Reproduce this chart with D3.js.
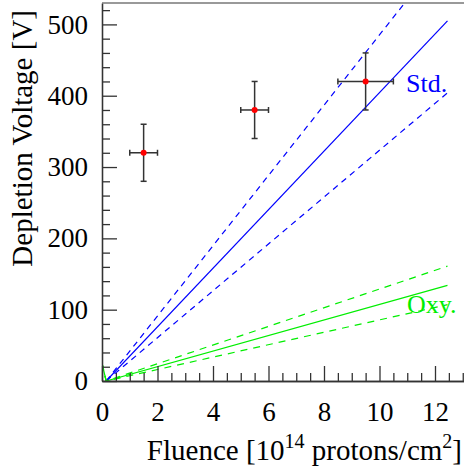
<!DOCTYPE html>
<html>
<head>
<meta charset="utf-8">
<script src="https://cdn.jsdelivr.net/npm/d3@7"></script>
<style>
  body { margin: 0; background: #fff; }
</style>
</head>
<body>
<svg width="464" height="467"></svg>
<script>
const svg = d3.select('svg');
const serif = 'Liberation Serif, DejaVu Serif, serif';

// measured points
const fluence = [1.5, 5.5, 9.5];
const fluenceErr = [0.5, 0.5, 1.0];
const voltage = [320, 380, 420];
const voltageErr = [40, 40, 40];

// expectation lines (central, +20%, -20%)
const stdFluence = [0.15, 12.45];
const stdCentral = [0, 505];
const stdUpper = [0, 606];
const stdLower = [0, 404];

const oxyFluence = [0, 0.15, 12.45];
const oxyCentral = [25, 0, 134];
const oxyUpper = [25, 0, 161];
const oxyLower = [25, 0, 107];

const xMajor = [0, 2, 4, 6, 8, 10, 12];
const yMajor = [0, 100, 200, 300, 400, 500];

const xScale = d3.scaleLinear().domain([0, 13.5]).range([102, 102 + 13.5 * 27.75]);
const yScale = d3.scaleLinear().domain([0, 530]).range([381, 3]);

const axisColor = '#333';

// clip for lines
svg.append('clipPath').attr('id', 'plot')
  .append('rect')
  .attr('x', xScale(0)).attr('y', yScale(530))
  .attr('width', 464 - xScale(0)).attr('height', yScale(0) - yScale(530));

const plot = svg.append('g').attr('clip-path', 'url(#plot)');

const lineGen = (xs) => d3.line()
  .x((d, i) => xScale(xs[i]))
  .y((d) => yScale(d));

const series = [
  { xs: stdFluence, ys: stdUpper, color: '#0000ff', dash: '6,5' },
  { xs: stdFluence, ys: stdLower, color: '#0000ff', dash: '6,5' },
  { xs: stdFluence, ys: stdCentral, color: '#0000ff', dash: null },
  { xs: oxyFluence, ys: oxyUpper, color: '#00ee00', dash: '7,6' },
  { xs: oxyFluence, ys: oxyLower, color: '#00ee00', dash: '7,6' },
  { xs: oxyFluence, ys: oxyCentral, color: '#00ee00', dash: null }
];

series.forEach((s) => {
  plot.append('path')
    .attr('d', lineGen(s.xs)(s.ys))
    .attr('fill', 'none')
    .attr('stroke', s.color)
    .attr('stroke-width', 1.2)
    .attr('stroke-dasharray', s.dash);
});

// axes
const yAxis = svg.append('g')
  .attr('transform', `translate(${xScale(0)},0)`)
  .call(d3.axisLeft(yScale).tickValues(yMajor).tickSize(-15).tickSizeOuter(0).tickPadding(14));
const yMinor = svg.append('g')
  .attr('transform', `translate(${xScale(0)},0)`)
  .call(d3.axisLeft(yScale).tickValues(d3.range(0, 530, 20).filter((v) => v % 100 !== 0))
    .tickSize(-8).tickSizeOuter(0).tickFormat(''));
const xAxis = svg.append('g')
  .attr('transform', `translate(0,${yScale(0)})`)
  .call(d3.axisBottom(xScale).tickValues(xMajor).tickSize(-15).tickSizeOuter(0).tickPadding(21));
const xMinor = svg.append('g')
  .attr('transform', `translate(0,${yScale(0)})`)
  .call(d3.axisBottom(xScale).tickValues(d3.range(0.5, 13.5, 0.5).filter((v) => v % 2 !== 0))
    .tickSize(-8).tickSizeOuter(0).tickFormat(''));

[yAxis, yMinor, xAxis, xMinor].forEach((a) => {
  a.attr('font-family', null).attr('font-size', null);
  a.selectAll('path, line').attr('stroke', axisColor).attr('stroke-width', 1.3);
  a.selectAll('text').attr('fill', '#000')
    .style('font-family', serif).style('font-size', '27px');
});

svg.append('line')
  .attr('x1', xScale(0)).attr('x2', 464)
  .attr('y1', yScale(530)).attr('y2', yScale(530))
  .attr('stroke', '#777').attr('stroke-width', 1.3);

// error bars
const pts = fluence.map((f, i) => ({ x: f, xe: fluenceErr[i], y: voltage[i], ye: voltageErr[i] }));
const eg = svg.append('g').attr('stroke', '#333').attr('stroke-width', 1.5);
pts.forEach((d) => {
  const cx = xScale(d.x), cy = yScale(d.y);
  const x0 = xScale(d.x - d.xe), x1 = xScale(d.x + d.xe);
  const y0 = yScale(d.y - d.ye), y1 = yScale(d.y + d.ye);
  eg.append('line').attr('x1', x0).attr('x2', x1).attr('y1', cy).attr('y2', cy);
  eg.append('line').attr('x1', cx).attr('x2', cx).attr('y1', y0).attr('y2', y1);
  eg.append('line').attr('x1', x0).attr('x2', x0).attr('y1', cy - 3).attr('y2', cy + 3);
  eg.append('line').attr('x1', x1).attr('x2', x1).attr('y1', cy - 3).attr('y2', cy + 3);
  eg.append('line').attr('x1', cx - 3).attr('x2', cx + 3).attr('y1', y0).attr('y2', y0);
  eg.append('line').attr('x1', cx - 3).attr('x2', cx + 3).attr('y1', y1).attr('y2', y1);
});
svg.append('g').selectAll('circle')
  .data(pts)
  .enter()
  .append('circle')
  .attr('cx', (d) => xScale(d.x))
  .attr('cy', (d) => yScale(d.y))
  .attr('r', 3)
  .attr('fill', '#ff0000');

// labels
svg.append('text')
  .attr('x', 406).attr('y', 92)
  .attr('fill', '#0000ff')
  .style('font-family', serif)
  .style('font-size', '26px')
  .text('Std.');
svg.append('text')
  .attr('x', 407).attr('y', 313)
  .attr('fill', '#00ee00')
  .style('font-family', serif)
  .style('font-size', '26px')
  .text('Oxy.');

// axis titles
const xt = svg.append('text')
  .attr('x', 462).attr('y', 460)
  .attr('text-anchor', 'end')
  .style('font-family', serif)
  .style('font-size', '29px');
xt.append('tspan').text('Fluence [10');
xt.append('tspan').attr('dy', -12).style('font-size', '20px').text('14');
xt.append('tspan').attr('dy', 12).text(' protons/cm');
xt.append('tspan').attr('dy', -12).style('font-size', '20px').text('2');
xt.append('tspan').attr('dy', 12).text(']');

svg.append('text')
  .attr('transform', 'translate(32,10) rotate(-90)')
  .attr('text-anchor', 'end')
  .style('font-family', serif)
  .style('font-size', '29px')
  .text('Depletion Voltage [V]');
</script>
</body>
</html>
